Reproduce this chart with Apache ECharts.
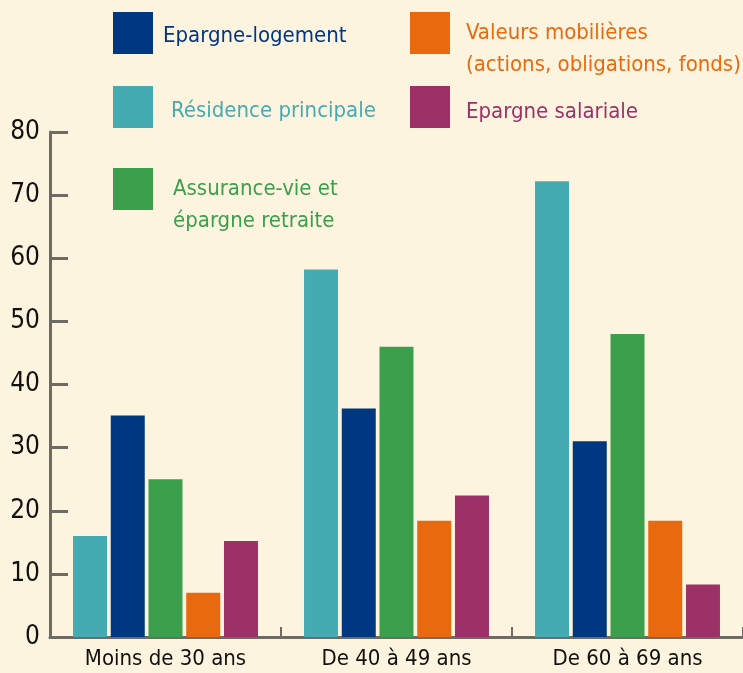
<!DOCTYPE html>
<html><head><meta charset="utf-8">
<script src="https://cdn.jsdelivr.net/npm/echarts@6/dist/echarts.min.js"></script>
<style>html,body{margin:0;padding:0;background:#FDF4DF}#c{width:743px;height:673px}</style>
</head><body><div id="c"></div>
<script>
var categories = ['Moins de 30 ans', 'De 40 à 49 ans', 'De 60 à 69 ans'];
var seriesNames = ['Résidence principale', 'Epargne-logement', 'Assurance-vie et\népargne retraite', 'Valeurs mobilières\n(actions, obligations, fonds)', 'Epargne salariale'];
var residence = [16, 58.2, 72.2];
var logement = [35.1, 36.2, 31];
var assurance = [25, 46, 48];
var valeurs = [7, 18.4, 18.4];
var salariale = [15.2, 22.4, 8.3];
var yTicks = [0, 10, 20, 30, 40, 50, 60, 70, 80];

var colors = ['#44ABB3', '#003781', '#3B9F4C', '#E8690E', '#9D3167'];
var FONT = "'Liberation Sans Narrow', 'DejaVu Sans Condensed', 'Roboto', sans-serif";
var values = [residence, logement, assurance, valeurs, salariale];

// legend placement: [left, top(of square), text padding-left, text shift-down]
var legendPos = [[113, 86, 13, 8], [113, 12, 5, 6], [113, 168, 15, 0], [410, 12, 11, 0], [410, 86, 11, 10]];

var legends = seriesNames.map(function (n, i) {
  var twoLine = n.indexOf('\n') >= 0;
  var p = legendPos[i];
  return {
    show: true, orient: 'horizontal', padding: 0,
    left: p[0], top: twoLine ? p[1] - 27 : p[1],
    itemWidth: 40, itemHeight: 42, icon: 'rect', selectedMode: false,
    data: [{ name: n, itemStyle: { color: colors[i] } }],
    formatter: twoLine ? function (name) { return ' \n' + name; } : function (name) { return '{t|' + name + '}'; },
    textStyle: {
      color: colors[i], fontFamily: FONT, fontSize: 22, lineHeight: 32,
      padding: [0, 0, 0, p[2]],
      rich: { t: { color: colors[i], fontFamily: FONT, fontSize: 22, lineHeight: 32, padding: [p[3], 0, 0, 0] } }
    }
  };
});

var chart = echarts.init(document.getElementById('c'), null, { renderer: 'canvas' });
chart.setOption({
  backgroundColor: '#FDF4DF',
  animation: false,
  legend: legends,
  grid: { left: 50, top: 132, width: 699, height: 505, containLabel: false },
  xAxis: {
    type: 'category', data: categories,
    axisLine: { lineStyle: { color: '#6E6A64', width: 3 } },
    axisTick: { show: true, inside: true, length: 10, alignWithLabel: false, lineStyle: { color: '#6E6A64', width: 2 } },
    axisLabel: { color: '#111', fontFamily: FONT, fontSize: 22, margin: 11, interval: 0 }
  },
  yAxis: {
    type: 'value', min: 0, max: 80, interval: 10,
    splitLine: { show: false },
    axisLine: { show: true, lineStyle: { color: '#6E6A64', width: 3 } },
    axisTick: { show: true, inside: true, length: 18, lineStyle: { color: '#6E6A64', width: 3 } },
    axisLabel: {
      color: '#111', fontFamily: FONT, fontSize: 26, margin: 10,
      formatter: function (v) { return yTicks.indexOf(v) >= 0 ? String(v) : ''; }
    }
  },
  series: seriesNames.map(function (n, i) {
    return {
      name: n, type: 'bar', data: values[i], barWidth: 34, barGap: '11%',
      itemStyle: { color: colors[i] }
    };
  })
});
</script></body></html>
